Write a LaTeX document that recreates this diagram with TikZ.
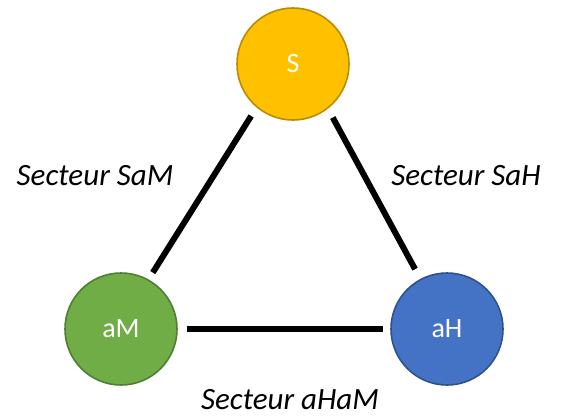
\documentclass[tikz,border=0pt]{standalone}
\usepackage{fontspec}
\setmainfont{Carlito}
\definecolor{sfill}{HTML}{FFC000}
\definecolor{sdraw}{HTML}{BC8C00}
\definecolor{mfill}{HTML}{70AD47}
\definecolor{mdraw}{HTML}{507E32}
\definecolor{hfill}{HTML}{4472C4}
\definecolor{hdraw}{HTML}{2F528F}
\tikzset{
  ball/.style={circle, minimum size=112pt, inner sep=0pt, line width=1.6pt, text=white, font=\fontsize{28}{32}\selectfont},
  conn/.style={line width=6pt, black},
  lab/.style={anchor=base, inner sep=0pt, font=\fontsize{31}{34}\selectfont\itshape}
}
\begin{document}
\begin{tikzpicture}[x=1pt,y=-1pt]
\useasboundingbox (0,0) rectangle (561,416);
\node[ball, fill=sfill, draw=sdraw] (S) at (293,64) {S};
\node[ball, fill=mfill, draw=mdraw] (aM) at (121,329) {aM};
\node[ball, fill=hfill, draw=hdraw] (aH) at (447,329) {aH};
\draw[conn, shorten <=10pt, shorten >=8pt] (S.230) -- (aM.61);
\draw[conn, shorten <=10pt, shorten >=11pt] (S.308) -- (aH.118);
\draw[conn, shorten <=9pt, shorten >=7.5pt] (aM.east) -- (aH.west);
\node[lab] (l1) at (95,185) {Secteur SaM};
\node[lab] (l2) at (466,185) {Secteur SaH};
\node[lab] (l3) at (290,409) {Secteur aHaM};
\end{tikzpicture}
\end{document}
